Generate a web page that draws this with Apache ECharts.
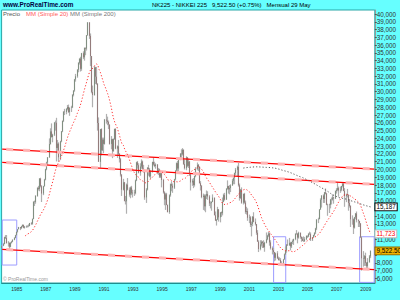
<!DOCTYPE html>
<html><head><meta charset="utf-8">
<script src="https://cdn.jsdelivr.net/npm/echarts@6/dist/echarts.min.js"></script>
<style>html,body{margin:0;padding:0;background:#66ffff}#c{width:400px;height:300px}</style>
</head><body><div id="c"></div>
<script>
// ---- data (monthly NIKKEI 225, Jan 1984 .. May 2009) ----
const firstYear = 1984;
const tickYears = ['1985','1987','1989','1991','1993','1995','1997','1999','2001','2003','2005','2007','2009'];
const yTicks = [6000,7000,8000,9000,10000,11000,12000,13000,14000,15000,16000,17000,18000,19000,20000,21000,22000,23000,24000,25000,26000,27000,28000,29000,30000,31000,32000,33000,34000,35000,36000,37000,38000,39000,40000];
// tick labels hidden behind the value flags on the right
const yHiddenLabels = [9000, 10000, 12000, 15000];
const opens = [
9893,10196,10410,11290,11190,10520,10560,10060,10580,10710,10950,11190,
11543,11992,12321,12580,12426,12700,12882,12510,12660,12700,12750,12730,
13113,13024,13640,15860,15825,16600,17650,17500,18820,17850,16910,17852,
18701,20024,20900,21566,23274,24900,24176,24488,26029,26011,22765,23330,
21564,23622,24900,26260,27435,27390,27769,28050,27366,27924,27982,29579,
30159,31581,31985,32839,33713,34266,32949,34954,34431,35636,35549,37269,
38916,37189,34591,29980,29584,33131,31940,31036,25978,20984,25194,22455,
23849,23293,26409,26292,26112,25790,23291,23900,22336,23916,25222,22687,
22984,22023,21339,19346,17391,18348,15952,15910,18061,17399,16767,17684,
16925,17024,16953,18591,20919,20552,19590,20380,21027,20106,19703,16408,
17417,20229,19997,19112,19725,20973,20644,20450,20629,19564,19990,19076,
19723,18650,17053,16140,16807,15437,14517,16678,18117,17913,17655,18744,
19868,20813,20125,21407,22041,21956,22531,20693,20167,21556,20466,21020,
19361,18330,18557,18003,19151,20069,20605,20331,18229,17888,16459,16636,
15259,16628,16832,16527,15641,15671,15830,16379,14108,13406,13565,14883,
13842,14499,14368,15837,16702,16112,17530,17862,17437,17605,17942,18558,
18934,19540,19960,20337,17974,16332,17411,15727,16861,15747,14539,14649,
13786,13843,12884,12999,13934,13262,12969,11861,10713,9775,10366,10697,
10543,9997,10588,11025,11493,11764,10622,9877,9619,9383,8640,9216,
8579,8340,8363,7973,7831,8425,9083,9563,10344,10219,10560,10101,
10677,10784,11042,11715,11762,11236,11859,11326,11082,10824,10771,11031,
11489,11388,11741,11669,11009,11277,11584,11900,12414,13574,13607,14872,
16111,16650,16205,17060,16906,15468,15505,15457,16141,16128,16399,16274,
17226,17383,17604,17288,17400,17876,18138,17249,16569,16786,16738,15681,
15308,13592,13604,12526,13850,14339,13481,13377,13073,11260,8577,8512,
8860,7994,7568,8110,8828];
const highs = [
10250,10560,11350,11560,11577,10780,10620,10650,10820,11020,11300,11600,
12000,12330,12620,12600,12760,12930,12910,12720,12800,12800,12950,13130,
13230,13700,15900,16000,16700,17700,17900,18900,18940,17990,17900,18800,
20100,21000,21600,24000,25300,25930,24600,26100,26300,26650,23800,23500,
23700,24950,26300,27500,27800,27900,28300,28350,28000,28200,29700,30200,
31650,32300,32900,33800,34300,34500,35000,35200,35700,35700,37300,38957,
38950,37500,34600,30800,33300,33200,33200,31100,26700,25200,25300,24100,
24100,26500,27150,26800,26300,25800,24300,23950,24000,25250,25300,23100,
23800,22100,21500,19400,18800,18400,16600,18200,18900,17700,17800,17900,
17400,17400,18700,21000,21100,20800,20800,21300,21150,20600,19800,17600,
20300,20600,20200,19900,21000,21550,21000,20800,20700,20200,20100,19800,
19800,18800,17200,17000,17000,15500,16800,18200,18500,18200,18800,19900,
20900,21100,21500,22100,22600,22750,22600,21300,21700,21600,21400,21100,
19500,18800,18900,19200,20300,20900,20700,20400,18500,18000,16900,16800,
16800,17300,17200,16700,15900,15900,16800,16400,14600,13600,15200,14900,
14500,14600,16400,16900,17000,17600,18600,17900,18000,18100,18800,19000,
19600,20200,20500,20833,18200,17500,17700,16900,17000,16000,15200,15000,
14200,14000,13300,14000,14500,13700,13000,12200,10900,10900,10900,10800,
10900,10700,11900,11600,11980,11900,10900,10100,9900,9400,9300,9500,
8800,8700,8600,8200,8500,9200,10100,10400,11000,11200,10700,10700,
11000,11100,11800,12200,11800,12000,11900,11400,11300,11400,11300,11500,
11500,11800,12000,11900,11300,11600,11900,12500,13600,13800,14900,16300,
16700,16800,17100,17563,17000,15600,15600,16200,16400,16800,16500,17300,
17600,18300,17800,17800,17900,18300,18300,17600,16900,17500,16800,16200,
15400,14100,13700,13900,14400,14600,13600,13400,13100,11400,9500,9000,
9300,8100,8600,9000,9600];
const lows = [
9890,10140,10380,11060,10480,10080,9700,10000,10480,10650,10900,11150,
11500,11880,12300,12200,12380,12580,12450,12400,12500,12550,12580,12700,
12880,12900,13600,15300,15600,16500,17300,17200,17700,15820,16700,17800,
18600,19900,20600,21500,23200,24100,23500,24300,25000,21036,22300,21000,
21200,23500,24800,26100,27000,27100,27600,27300,26900,27400,27900,29400,
30000,31300,31800,32500,33500,32600,32700,34200,34000,34700,35300,37200,
36800,33300,29800,28000,29500,31000,30900,25000,20980,20221,21800,22400,
22100,23200,25900,25700,25200,23200,22600,21460,22300,23800,22600,21500,
21800,20900,19100,16600,17300,15900,15500,14309,17300,16500,16300,16700,
16400,16600,16800,18500,20100,19500,19200,20100,19900,19600,16100,15700,
17300,19200,19000,18800,19600,20500,20300,20100,19400,19300,18900,18900,
17700,16900,15400,14800,15400,14485,14300,16500,17200,17000,17500,18600,
19700,19700,19800,21200,21500,21800,20600,20000,19900,20300,20200,19160,
17300,17900,17600,17800,19000,19900,19800,18200,17300,16300,14800,14700,
14500,16200,16100,15300,15000,14700,15800,14100,13400,12788,13500,13300,
13200,13900,14100,15800,16000,16100,17400,16900,16800,17100,17900,18100,
18100,19300,19100,17800,16000,16200,15600,15500,15600,14300,14200,13400,
13100,12600,11400,12700,13200,12800,11600,10700,9380,9600,10100,9900,
9900,9420,10500,10900,11300,10200,9700,9075,9100,8200,8300,8500,
8300,8300,7860,7607,7800,8400,9000,9300,10200,10200,9600,9900,
10400,10300,10900,11600,10500,11100,11100,10700,10800,10700,10700,10900,
11200,11300,11600,10800,10800,11200,11400,11700,12200,13100,13600,14800,
15100,15700,15700,16800,15400,14045,14400,15000,15500,16000,15600,16200,
16900,17200,16500,17000,17200,17700,17200,15200,15800,16400,14700,15100,
12600,12900,11700,12400,13600,13200,12600,12600,11200,6995,7500,7600,
7600,7300,7055,8000,8600];
const closes = [
10196,10410,11290,11190,10520,10560,10060,10580,10710,10950,11190,11543,
11992,12321,12580,12426,12700,12882,12510,12660,12700,12750,12730,13113,
13024,13640,15860,15825,16600,17650,17500,18820,17850,16910,17852,18701,
20024,20900,21566,23274,24900,24176,24488,26029,26011,22765,23330,21564,
23622,24900,26260,27435,27390,27769,28050,27366,27924,27982,29579,30159,
31581,31985,32839,33713,34266,32949,34954,34431,35636,35549,37269,38916,
37189,34591,29980,29584,33131,31940,31036,25978,20984,25194,22455,23849,
23293,26409,26292,26112,25790,23291,23900,22336,23916,25222,22687,22984,
22023,21339,19346,17391,18348,15952,15910,18061,17399,16767,17684,16925,
17024,16953,18591,20919,20552,19590,20380,21027,20106,19703,16408,17417,
20229,19997,19112,19725,20973,20644,20450,20629,19564,19990,19076,19723,
18650,17053,16140,16807,15437,14517,16678,18117,17913,17655,18744,19868,
20813,20125,21407,22041,21956,22531,20693,20167,21556,20466,21020,19361,
18330,18557,18003,19151,20069,20605,20331,18229,17888,16459,16636,15259,
16628,16832,16527,15641,15671,15830,16379,14108,13406,13565,14883,13842,
14499,14368,15837,16702,16112,17530,17862,17437,17605,17942,18558,18934,
19540,19960,20337,17974,16332,17411,15727,16861,15747,14539,14649,13786,
13843,12884,12999,13934,13262,12969,11861,10713,9775,10366,10697,10543,
9997,10588,11025,11493,11764,10622,9877,9619,9383,8640,9216,8579,
8340,8363,7973,7831,8425,9083,9563,10344,10219,10560,10101,10677,
10784,11042,11715,11762,11236,11859,11326,11082,10824,10771,11031,11489,
11388,11741,11669,11009,11277,11584,11900,12414,13574,13607,14872,16111,
16650,16205,17060,16906,15468,15505,15457,16141,16128,16399,16274,17226,
17383,17604,17288,17400,17876,18138,17249,16569,16786,16738,15681,15308,
13592,13604,12526,13850,14339,13481,13377,13073,11260,8577,8512,8860,
7994,7568,8110,8828,9523];
// trend lines: [start value (Jan 1984), end value (right edge)]
const trendUpper  = [22630, 20050];
const trendMiddle = [20920, 18090];
const trendLower  = [9730, 7130];
// highlighted boxes: [from month, to month, top value, bottom value]
const boxFrom = ['1984-01', '2002-09', '2008-08'];
const boxTo   = ['1985-01', '2003-07', '2009-08'];
const boxTop  = [13500, 11350, 11350];
const boxBottom = [7710, 5450, 5480];
// right-hand value flags
const flagValues = [15187, 11723, 9522.5];
const flagTexts  = ['15,187', '11,723', '9,522.50'];
const extraMonths = 3; // empty space after last candle

// ---- build ----
const nCat = closes.length + extraMonths;
const months = [];
for (let i = 0; i < nCat; i++) {
  const y = firstYear + Math.floor(i / 12), m = i % 12 + 1;
  months.push(y + '-' + (m < 10 ? '0' + m : m));
}
const lastCat = months[nCat - 1];
const tickSet = new Set(tickYears.map(y => y + '-01'));
const showTick = (idx, val) => tickSet.has(val);
const yLabels = yTicks.filter(v => yHiddenLabels.indexOf(v) < 0);

const wickData = closes.map((c, i) => [opens[i], c, lows[i], highs[i]]);
const bodyData = closes.map((c, i) => [opens[i], c, Math.min(opens[i], c), Math.max(opens[i], c)]);
function sma(n) {
  return closes.map((v, i) => {
    if (i < n - 1) return null;
    let s = 0; for (let k = i - n + 1; k <= i; k++) s += closes[k];
    return +(s / n).toFixed(1);
  });
}
const ma20 = sma(20), ma200 = sma(200);

const FONT = '"Liberation Sans", Arial, sans-serif';
const chart = echarts.init(document.getElementById('c'), null, {renderer: 'svg', width: 400, height: 300});

function trend(vals, name) {
  return [
    {type: 'line', name: name, silent: true, symbol: 'none', z: 5,
     data: [[months[0], vals[0]], [lastCat, vals[1]]],
     lineStyle: {color: '#ff0000', width: 1.2}},
    {type: 'line', name: name + 'p', silent: true, symbol: 'none', z: 6,
     data: [[months[0], vals[0]], [lastCat, vals[1]]],
     lineStyle: {color: '#ffb4b4', width: 3, type: [7, 10], dashOffset: -4}}
  ];
}
const flagStyles = [
  {color: '#000', backgroundColor: '#fff', borderColor: '#000'},
  {color: '#ff0000', backgroundColor: '#fff', borderColor: '#bbbbbb'},
  {color: '#000', backgroundColor: '#f0b400', borderColor: '#8a6a00'}
];

chart.setOption({
  animation: false,
  backgroundColor: '#66ffff',
  grid: {left: 1.6, right: 25.2, top: 10, bottom: 17, show: true, backgroundColor: '#ffffff', borderColor: '#2aa7a7', borderWidth: 1},
  xAxis: {
    type: 'category', data: months, boundaryGap: true,
    axisLine: {lineStyle: {color: '#1f8f8f', width: 1}},
    axisTick: {alignWithLabel: true, interval: showTick, length: 2, lineStyle: {color: '#333'}},
    axisLabel: {interval: showTick, formatter: v => v.slice(0, 4), fontSize: 5, color: '#333', margin: 3, fontFamily: FONT},
    splitLine: {show: false}
  },
  yAxis: {
    type: 'value', position: 'right', min: 5400, max: 40515,
    axisLine: {show: true, lineStyle: {color: '#999'}},
    axisTick: {show: true, customValues: yTicks, length: 2, lineStyle: {color: '#555'}},
    axisLabel: {customValues: yLabels, fontSize: 6.3, color: '#333', margin: 2, fontFamily: FONT,
      formatter: v => Number(v).toLocaleString('en-US')},
    splitLine: {show: false}
  },
  graphic: [
    {type: 'text', left: 3, top: 1.5, style: {text: 'www.ProRealTime.com', font: 'bold 6.4px ' + FONT, fill: '#000040'}},
    {type: 'text', left: 152, top: 2.2, style: {text: 'NK225 - NIKKEI 225   9,522.50 (+0.75%)   Mensual 29 May', font: '6px ' + FONT, fill: '#000'}},
    {type: 'text', left: 3, top: 10.6, z: 20, style: {text: 'Precio', font: '6px ' + FONT, fill: '#555'}},
    {type: 'text', left: 26, top: 10.6, z: 20, style: {text: 'MM (Simple 20)', font: '6px ' + FONT, fill: '#ff5a5a'}},
    {type: 'text', left: 70, top: 10.6, z: 20, style: {text: 'MM (Simple 200)', font: '6px ' + FONT, fill: '#777'}},
    {type: 'text', left: 3, top: 276.6, z: 20, style: {text: '\u00A9 ProRealTime.com', font: '5px ' + FONT, fill: '#999'}}
  ],
  series: [
    {type: 'candlestick', name: 'wick', data: wickData, barWidth: 1, silent: true, z: 2,
     itemStyle: {color: '#b0b0b0', color0: '#b0b0b0', borderColor: '#b0b0b0', borderColor0: '#b0b0b0', borderWidth: 1.2}},
    {type: 'candlestick', name: 'Precio', data: bodyData, barWidth: 1.2, silent: true, z: 3,
     itemStyle: {color: '#00a000', color0: '#c00000', borderColor: '#104010', borderColor0: '#500000', borderWidth: 0.3}},
    {type: 'line', name: 'MM (Simple 20)', data: ma20, showSymbol: false, silent: true, z: 7, connectNulls: false,
     lineStyle: {color: '#ff3030', width: 1, type: [1.2, 2]}},
    {type: 'line', name: 'MM (Simple 200)', data: ma200, showSymbol: false, silent: true, z: 7,
     lineStyle: {color: '#555', width: 1, type: [1.2, 2]}},
    ...trend(trendUpper, 'tu'),
    ...trend(trendMiddle, 'tm'),
    ...trend(trendLower, 'tl').map((s, k) => k === 0 ? Object.assign(s, {
      markArea: {silent: true, itemStyle: {color: 'rgba(0,0,0,0)', borderColor: '#9c9cff', borderWidth: 1},
        data: boxFrom.map((f, i) => [{coord: [f, boxTop[i]]}, {coord: [boxTo[i], boxBottom[i]]}])},
      markPoint: {silent: true, symbol: 'rect', symbolSize: 0.1, itemStyle: {color: 'rgba(0,0,0,0)'},
        data: flagValues.map((v, i) => ({name: flagTexts[i], coord: [lastCat, v],
          label: Object.assign({show: true, position: 'right', distance: 1.2, formatter: '{b}', fontSize: 6.3,
            lineHeight: 6.3, fontFamily: FONT, padding: [0.5, 1, 0, 1], borderWidth: 1}, flagStyles[i])}))}
    }) : s)
  ]
});
</script></body></html>
